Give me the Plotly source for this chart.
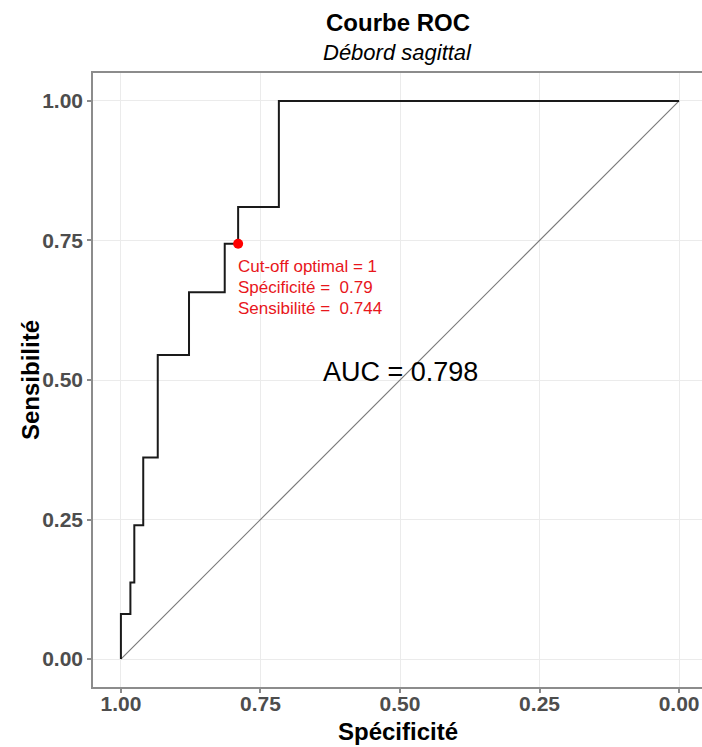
import plotly.graph_objects as go

# ROC step curve vertices (specificity, sensitivity)
specificite = [1.0, 0.983, 0.976, 0.960, 0.934, 0.878, 0.814, 0.790, 0.717, 0.0]
sensibilite = [0.0, 0.081, 0.137, 0.240, 0.361, 0.545, 0.657, 0.744, 0.810, 1.0]

diag_x = [1.0, 0.0]
diag_y = [0.0, 1.0]

cut_spec = [0.79]
cut_sens = [0.744]
cut_lines = ["Cut-off optimal = 1", "Spécificité =\u00a0 0.79", "Sensibilité =\u00a0 0.744"]
auc_label = "AUC = 0.798"
auc_pos = (0.5, 0.515)

tick_vals = [0.0, 0.25, 0.5, 0.75, 1.0]
tick_text = ["0.00", "0.25", "0.50", "0.75", "1.00"]

FONT = "Liberation Sans, Arial, sans-serif"

fig = go.Figure()
fig.add_trace(go.Scatter(x=diag_x, y=diag_y, mode="lines",
                         line=dict(color="#7a7a7a", width=1.2), hoverinfo="skip"))
fig.add_trace(go.Scatter(x=specificite, y=sensibilite, mode="lines",
                         line=dict(color="#1a1a1a", width=2, shape="vh")))
fig.add_trace(go.Scatter(x=cut_spec, y=cut_sens, mode="markers",
                         marker=dict(color="red", size=10)))

for i, line in enumerate(cut_lines):
    fig.add_annotation(x=cut_spec[0], y=cut_sens[0], text=line, showarrow=False,
                       xanchor="left", yanchor="middle", align="left",
                       yshift=-(23 + 20.7 * i), xshift=-2,
                       font=dict(family=FONT, size=17, color="#e8161b"))
fig.add_annotation(x=auc_pos[0], y=auc_pos[1], text=auc_label, showarrow=False,
                   xanchor="center", yanchor="middle",
                   font=dict(family=FONT, size=27, color="black"))

# titles (paper coords; plot area spans 93..707 px horizontally)
fig.add_annotation(xref="paper", yref="paper", x=0.4967, y=1.083, text="<b>Courbe ROC</b>",
                   showarrow=False, xanchor="center", yanchor="middle",
                   font=dict(family=FONT, size=24, color="black"))
fig.add_annotation(xref="paper", yref="paper", x=0.4967, y=1.034, text="<i>Débord sagittal</i>",
                   showarrow=False, xanchor="center", yanchor="middle",
                   font=dict(family=FONT, size=22, color="black"))
fig.add_annotation(xref="paper", yref="paper", x=0.4967, y=-0.0717, text="<b>Spécificité</b>",
                   showarrow=False, xanchor="center", yanchor="middle",
                   font=dict(family=FONT, size=24, color="black"))
fig.add_annotation(xref="paper", yref="paper", x=-0.1026, y=0.5, text="<b>Sensibilité</b>",
                   showarrow=False, xanchor="center", yanchor="middle", textangle=-90,
                   font=dict(family=FONT, size=24, color="black"))

axis_common = dict(
    tickvals=tick_vals, ticktext=tick_text,
    showgrid=True, gridcolor="#ebebeb", gridwidth=1,
    zeroline=False, showline=True, linecolor="#8c8c8c", linewidth=1.5,
    ticks="outside", ticklen=4, tickcolor="#8c8c8c", tickwidth=1.5,
    tickfont=dict(family=FONT, size=21, color="#4d4d4d", weight="bold"),
)
fig.update_xaxes(range=[1.05, -0.05], mirror=True, ticklabelstandoff=-7, **axis_common)
fig.update_yaxes(range=[-0.05, 1.05], mirror=False, **axis_common)

# figure is slightly wider than the window so the panel's right edge falls
# just outside the visible area, as in the reference crop
fig.update_layout(
    width=707, height=747,
    margin=dict(l=93, r=0, t=73, b=60),
    plot_bgcolor="white", paper_bgcolor="white",
    showlegend=False,
)
fig.write_html(
    "out.html",
    config={"displayModeBar": False},
    post_script="document.body.style.margin='0';document.body.style.overflow='hidden';",
)
